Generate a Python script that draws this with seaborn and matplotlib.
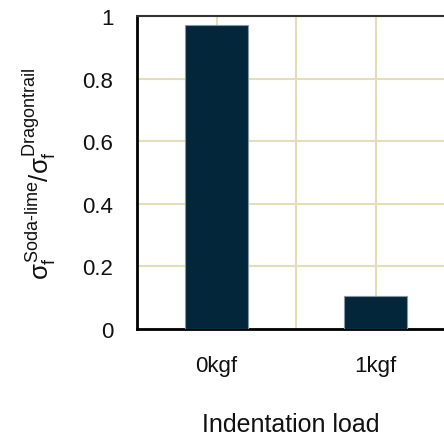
import matplotlib
matplotlib.use("Agg")
import matplotlib.pyplot as plt
import seaborn as sns
import pandas as pd

loads = ["0kgf", "1kgf"]
ratio = [0.971, 0.104]

sns.set_theme(style="white")
plt.rcParams['font.family'] = ['Liberation Sans', 'DejaVu Sans']
plt.rcParams['mathtext.fontset'] = 'custom'
plt.rcParams['mathtext.rm'] = 'Liberation Sans'
plt.rcParams['mathtext.it'] = 'Liberation Sans'
plt.rcParams['mathtext.bf'] = 'Liberation Sans:bold'

df = pd.DataFrame({"load": loads, "ratio": ratio})

fig = plt.figure(figsize=(4.44, 4.39), dpi=100)
ax = fig.add_axes([137/444, 109/439, 307/444, 313/439])

sns.barplot(data=df, x="load", y="ratio", color="#03263a", saturation=1,
            width=0.4, edgecolor="#8796a6", linewidth=0.8, ax=ax, zorder=3)

ax.set_xlim(-0.5, 1.43)
ax.set_ylim(0, 1)
ax.set_xticks([0, 0.5, 1])
ax.set_xticklabels(["0kgf", "", "1kgf"])
ax.set_yticks([0, 0.2, 0.4, 0.6, 0.8, 1.0])
ax.set_yticklabels(["0", "0.2", "0.4", "0.6", "0.8", "1"])
ax.grid(True, color="#e2ddbb", linewidth=1.5, zorder=0)
ax.set_axisbelow(True)
ax.tick_params(axis="both", length=0, labelsize=16, colors="#111111")
ax.tick_params(axis="x", pad=19)
ax.tick_params(axis="y", pad=17)

for s in ["left", "bottom"]:
    ax.spines[s].set_color("black")
    ax.spines[s].set_linewidth(2)
ax.spines["top"].set_color("#333333")
ax.spines["top"].set_linewidth(1.5)
ax.spines["right"].set_visible(False)

ax.set_xlabel("Indentation load", fontsize=18, labelpad=26, color="#111111")
ax.set_ylabel(r"$\sigma_f^{\text{Soda-lime}}/\sigma_f^{\text{Dragontrail}}$",
              fontsize=18.5, labelpad=18, color="#111111")

fig.savefig("out.png", dpi=100)
